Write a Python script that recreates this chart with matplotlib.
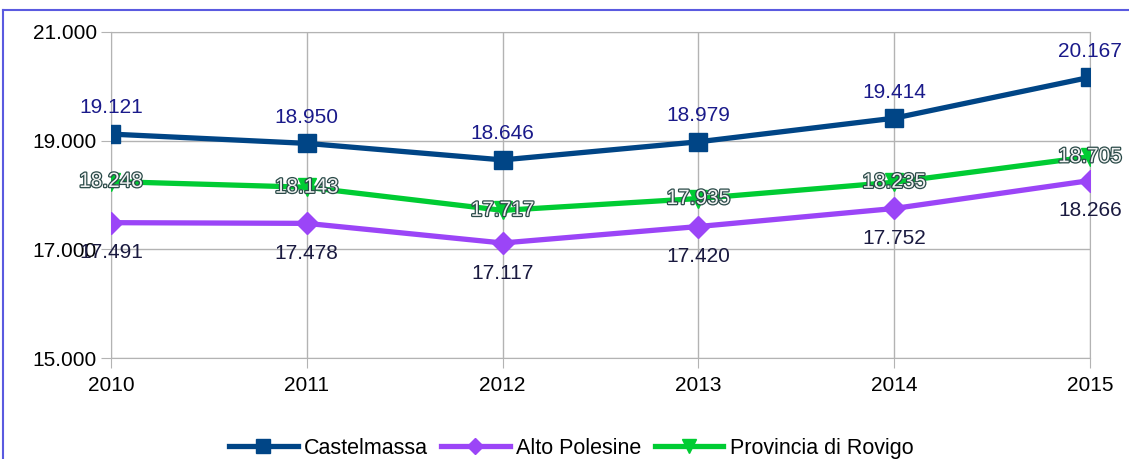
import matplotlib
matplotlib.use("Agg")
import matplotlib.pyplot as plt
import matplotlib.patheffects as pe
from matplotlib.ticker import FuncFormatter

plt.rcParams['font.family'] = ['Liberation Sans', 'DejaVu Sans']

# dati
anni = [2010, 2011, 2012, 2013, 2014, 2015]
castelmassa = [19121, 18950, 18646, 18979, 19414, 20167]
alto_polesine = [17491, 17478, 17117, 17420, 17752, 18266]
rovigo = [18248, 18143, 17717, 17935, 18235, 18705]
y_ticks = [15000, 17000, 19000, 21000]


def fmt(v):
    return f"{v:,.0f}".replace(",", ".")


fig = plt.figure(figsize=(11.29, 4.59), dpi=100)
ax = fig.add_axes([0.0983, 0.22, 0.8672, 0.7103])

# bordo esterno
fig.add_artist(plt.Line2D([0.003, 1.0], [0.978, 0.978], color="#5a5ae0", lw=1.5))
fig.add_artist(plt.Line2D([0.003, 0.003], [0.0, 0.978], color="#5a5ae0", lw=1.5))

c_cast = "#004586"
c_alto = "#9b45f7"
c_rov = "#00cc33"

ax.plot(anni, castelmassa, color=c_cast, lw=3.8, marker="s", ms=13, label="Castelmassa", zorder=5)
ax.plot(anni, alto_polesine, color=c_alto, lw=3.8, marker="D", ms=11, label="Alto Polesine", zorder=4)
ax.plot(anni, rovigo, color=c_rov, lw=3.8, marker="v", ms=13, label="Provincia di Rovigo", zorder=4)

fs = 15
for x, v in zip(anni, castelmassa):
    ax.annotate(fmt(v), (x, v), xytext=(0, 12), textcoords="offset points",
                ha="center", va="bottom", fontsize=fs, color="#1a1a8a", zorder=6)
for x, v in zip(anni, alto_polesine):
    ax.annotate(fmt(v), (x, v), xytext=(0, -15), textcoords="offset points",
                ha="center", va="top", fontsize=fs, color="#1a1a40", zorder=6)
for x, v in zip(anni, rovigo):
    ax.annotate(fmt(v), (x, v), xytext=(0, 0), textcoords="offset points",
                ha="center", va="center", fontsize=fs, color="#f2f2f2", zorder=6,
                path_effects=[pe.withStroke(linewidth=1.8, foreground="#2a4a48")])

ax.set_xlim(2010, 2015)
ax.set_ylim(15000, 21000)
ax.set_xticks(anni)
ax.set_yticks(y_ticks)
ax.yaxis.set_major_formatter(FuncFormatter(lambda v, p: fmt(v)))
ax.grid(True, color="#b3b3b3", lw=1)
ax.set_axisbelow(True)
for s in ax.spines.values():
    s.set_color("#b3b3b3")
ax.tick_params(axis="both", labelsize=fs, colors="#b3b3b3", labelcolor="black", length=7)
ax.tick_params(axis="y", pad=3)
ax.tick_params(axis="x", pad=6)

ax.legend(loc="upper center", bbox_to_anchor=(0.47, -0.185), ncol=3, frameon=False,
          fontsize=15.5, handlelength=3.2, columnspacing=0.6, handletextpad=0.3,
          markerscale=0.75)

fig.savefig("out.png", dpi=100)
